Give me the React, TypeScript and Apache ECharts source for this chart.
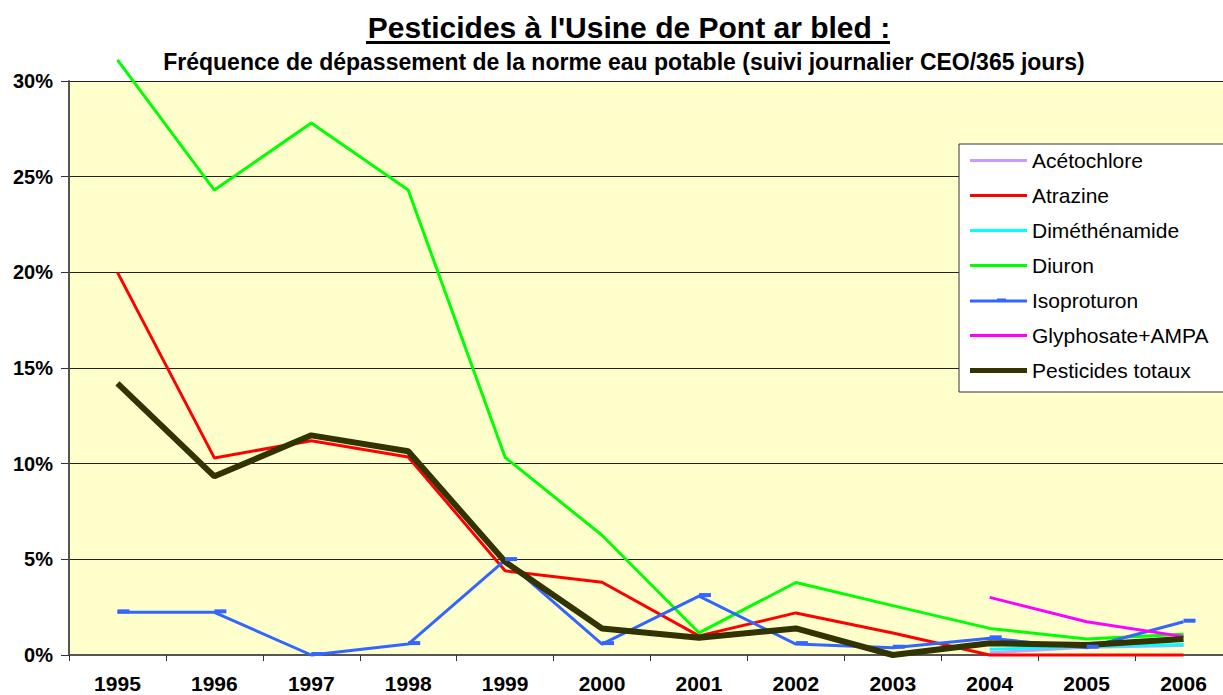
import React, { useEffect, useRef } from "react";
import * as echarts from "echarts";

const years = ["1995", "1996", "1997", "1998", "1999", "2000", "2001", "2002", "2003", "2004", "2005", "2006"];
const acetochlore = [null, null, null, null, null, null, null, null, null, 0.12, 0.4, 0.5];
const atrazine = [20, 10.3, 11.2, 10.35, 4.4, 3.8, 1.0, 2.2, 1.15, 0, 0, 0];
const dimethenamide = [null, null, null, null, null, null, null, null, null, 0.3, 0.45, 0.55];
const diuron = [31.1, 24.3, 27.8, 24.3, 10.33, 6.26, 1.16, 3.79, 2.58, 1.39, 0.84, 1.08];
const isoproturon = [2.23, 2.23, 0, 0.57, 4.96, 0.57, 3.08, 0.57, 0.38, 0.87, 0.38, 1.74];
const glyphosate = [null, null, null, null, null, null, null, null, null, 3.01, 1.74, 0.96];
const totaux = [14.2, 9.34, 11.48, 10.65, 4.87, 1.39, 0.9, 1.39, 0, 0.61, 0.52, 0.84];

const titleText = "Pesticides à l'Usine de Pont ar bled :";
const subtitleText = "Fréquence de dépassement de la norme eau potable (suivi journalier CEO/365 jours)";

const FONT = '"Liberation Sans", Arial, sans-serif';

const thinIcon = "path://M0,0H57V3H0Z";
const thickIcon = "path://M0,0H57V5H0Z";
const dashIcon = "path://M0,1H57V4H0Z M27,0H36V4H27Z";

export default function App() {
  const ref = useRef<HTMLDivElement>(null);
  useEffect(() => {
    if (!ref.current) return;
    const chart = echarts.init(ref.current, null, { renderer: "svg" });
    const mk = (name: string, data: any[], color: string, width: number, extra: any = {}) => ({
      name,
      type: "line",
      data,
      symbol: "none",
      clip: false,
      connectNulls: false,
      lineStyle: { color, width },
      itemStyle: { color },
      emphasis: { disabled: true },
      ...extra,
    });
    chart.setOption({
      animation: false,
      backgroundColor: "#ffffff",
      textStyle: { fontFamily: FONT },
      graphic: [
        {
          type: "text",
          x: 629,
          y: 27,
          style: {
            text: titleText,
            font: `bold 30px ${FONT}`,
            fill: "#000",
            align: "center",
            verticalAlign: "middle",
            textAlign: "center",
            textVerticalAlign: "middle",
          },
        },
        {
          type: "line",
          shape: { x1: 366, y1: 42.5, x2: 890, y2: 42.5 },
          style: { stroke: "#000", lineWidth: 3 },
        },
        {
          type: "text",
          x: 624,
          y: 62,
          style: {
            text: subtitleText,
            font: `bold 23px ${FONT}`,
            fill: "#000",
            align: "center",
            verticalAlign: "middle",
            textAlign: "center",
            textVerticalAlign: "middle",
          },
        },
      ],
      grid: {
        left: 69,
        top: 81,
        width: 1163,
        height: 574,
        show: true,
        backgroundColor: "#FFFFCC",
        borderWidth: 0,
        containLabel: false,
        outerBoundsMode: "none",
      },
      legend: {
        orient: "vertical",
        left: 959,
        top: 144,
        padding: [6, 40, 11, 11],
        itemWidth: 57,
        itemHeight: 14,
        itemGap: 14,
        backgroundColor: "#ffffff",
        borderColor: "#333333",
        borderWidth: 1,
        textStyle: { fontFamily: FONT, fontSize: 21, color: "#000" },
        data: [
          { name: "Acétochlore", icon: thinIcon },
          { name: "Atrazine", icon: thinIcon },
          { name: "Diméthénamide", icon: thinIcon },
          { name: "Diuron", icon: thinIcon },
          { name: "Isoproturon", icon: dashIcon },
          { name: "Glyphosate+AMPA", icon: thinIcon },
          { name: "Pesticides totaux", icon: thickIcon },
        ],
      },
      xAxis: {
        type: "category",
        data: years,
        boundaryGap: true,
        axisLine: { show: true, lineStyle: { color: "#555555", width: 2 } },
        axisTick: { show: true, interval: 0, length: 6, lineStyle: { color: "#333333", width: 1 } },
        axisLabel: { fontFamily: FONT, fontSize: 21, fontWeight: "bold", color: "#000", margin: 18, interval: 0 },
        splitLine: { show: false },
      },
      yAxis: {
        type: "value",
        min: 0,
        max: 30,
        interval: 5,
        axisLine: { show: true, lineStyle: { color: "#555555", width: 2 } },
        axisTick: { show: true, length: 8, lineStyle: { color: "#333333", width: 1 } },
        axisLabel: {
          fontFamily: FONT,
          fontSize: 20,
          fontWeight: "bold",
          color: "#000",
          margin: 16,
          formatter: "{value}%",
        },
        splitLine: { show: true, lineStyle: { color: "#222222", width: 1 } },
      },
      series: [
        mk("Acétochlore", acetochlore, "#CC99FF", 3),
        mk("Atrazine", atrazine, "#FF0000", 3),
        mk("Diméthénamide", dimethenamide, "#00FFFF", 3),
        mk("Diuron", diuron, "#00FF00", 3),
        mk("Isoproturon", isoproturon, "#3366FF", 3, {
          symbol: "rect",
          symbolSize: [12, 4],
          symbolOffset: [6, -1],
          showSymbol: true,
        }),
        mk("Glyphosate+AMPA", glyphosate, "#FF00FF", 3),
        mk("Pesticides totaux", totaux, "#333300", 6),
      ],
    });
    return () => chart.dispose();
  }, []);
  return (
    <div
      ref={ref}
      style={{ position: "fixed", left: 0, top: 0, width: 1223, height: 695, background: "#fff" }}
    />
  );
}
